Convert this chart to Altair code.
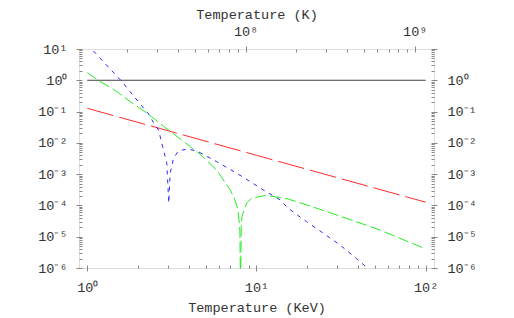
import altair as alt
import pandas as pd

# ---------------- data ----------------
KEV_TO_K = 1.1605e7          # 1 keV in Kelvin
kev_domain = [0.893, 112.0]
val_domain = [1e-6, 10.0]

black_x = [1.0, 100.0]
black_y = [1.0, 1.0]

red_x = [1.0, 10.0, 100.0]
red_y = [0.127, 0.0040, 1.27e-4]

green_x = [1.0, 1.17, 1.43, 1.79, 2.25, 2.63, 2.82, 3.6, 4.64, 5.82, 6.37, 6.98,
           7.39, 7.74, 7.88, 7.98, 8.05, 8.12, 8.2, 8.75, 9.37, 11.2, 12.9, 15.4,
           19.8, 27.1, 39.0, 53.5, 70.3, 100.0]
green_y = [1.75, 0.97, 0.51, 0.21, 0.089, 0.046, 0.034, 0.0125, 0.0043, 1.36e-3,
           6.5e-4, 3.2e-4, 1.7e-4, 8.1e-5, 3.5e-5, 1.5e-5, 1e-7, 1.8e-5, 4.4e-5,
           1.2e-4, 1.7e-4, 2.05e-4, 1.9e-4, 1.6e-4, 1.04e-4, 5.9e-5, 3.0e-5,
           1.65e-5, 8.9e-6, 4.1e-6]

blue_x = [1.0, 1.18, 1.31, 1.585, 2.08, 2.3, 2.46, 2.57, 2.64, 2.82, 2.95, 3.03,
          3.09, 3.23, 3.46, 3.97, 4.53, 5.82, 7.64, 9.16, 11.0, 13.8, 15.4, 19.8,
          24.8, 31.1, 39.0, 44.3, 48.0]
blue_y = [14.0, 5.4, 2.9, 0.97, 0.16, 0.084, 0.045, 0.032, 0.025, 5.9e-3, 2.2e-3,
          1.2e-4, 1.07e-3, 3.2e-3, 5.6e-3, 6.4e-3, 5.2e-3, 2.5e-3, 1.07e-3, 5.8e-4,
          3.1e-4, 1.5e-4, 8.1e-5, 3.0e-5, 1.3e-5, 5.5e-6, 2.0e-6, 1.1e-6, 7e-7]

series_names = ["black", "red", "green", "blue"]
series_colors = ["#222222", "#ff2a2a", "#22ee22", "#2a2aff"]
series_dashes = [[1, 0], [27, 6], [11, 4], [4, 5]]

# tick values / labels
minor_mult = [2, 3, 4, 5, 6, 7, 8, 9]
x_major = [1, 10, 100]
x_labels = ["10⁰", "10¹", "10²"]
x_minor = [m * d for d in [1, 10] for m in minor_mult]

y_major = [1e-6, 1e-5, 1e-4, 1e-3, 1e-2, 1e-1, 1.0, 10.0]
y_labels_left = ["10⁻⁶", "10⁻⁵", "10⁻⁴", "10⁻³", "10⁻²", "10⁻¹", "10⁰", "10¹"]
y_labels_right = ["10⁻⁶", "10⁻⁵", "10⁻⁴", "10⁻³", "10⁻²", "10⁻¹", "10⁰", ""]
y_minor = [m * d for d in [1e-6, 1e-5, 1e-4, 1e-3, 1e-2, 1e-1, 1.0] for m in minor_mult]

top_major = [1e8, 1e9]
top_labels = ["10⁸", "10⁹"]
top_minor = [m * d for d in [1e7, 1e8] for m in minor_mult]

# ---------------- helpers ----------------
FONT = "Liberation Mono"
GRAY = "#888888"
TXT = "#333333"


def label_expr(values, labels):
    expr = "''"
    for v, l in reversed(list(zip(values, labels))):
        expr = f"datum.value == {v!r} ? '{l}' : {expr}"
    return expr


def make_axis(orient, major, minor, labels, title=None, label_pad=9, title_pad=None):
    test = "indexof([" + ",".join(repr(v) for v in major) + "], datum.value) >= 0"
    kw = dict(
        orient=orient,
        values=sorted(major + minor),
        labelExpr=label_expr(major, labels),
        tickSize={"condition": {"test": test, "value": 6}, "value": 3},
        offset=-3,
        domain=False,
        grid=False,
        tickColor=GRAY,
        tickWidth=1,
        labelFont=FONT,
        labelFontSize=13.5,
        labelColor=TXT,
        labelPadding=label_pad,
        labelFlush=False,
        labelOverlap=False,
    )
    if title is not None:
        kw.update(title=title, titleFont=FONT, titleFontSize=13.5,
                  titleFontWeight="normal", titleColor=TXT)
        if title_pad is not None:
            kw["titlePadding"] = title_pad
    else:
        kw["title"] = ""
    return alt.Axis(**kw)


rows = []
for name, xs, ys in [("black", black_x, black_y), ("red", red_x, red_y),
                     ("green", green_x, green_y), ("blue", blue_x, blue_y)]:
    for x, y in zip(xs, ys):
        rows.append({"series": name, "kev": x, "val": y})
df = pd.DataFrame(rows)

x_scale = alt.Scale(type="log", domain=kev_domain, nice=False)
y_scale = alt.Scale(type="log", domain=val_domain, nice=False)

lines = alt.Chart(df).mark_line(clip=True, strokeWidth=1).encode(
    x=alt.X("kev:Q", scale=x_scale,
            axis=make_axis("bottom", x_major, x_minor, x_labels,
                           title="Temperature (KeV)", label_pad=9, title_pad=7)),
    y=alt.Y("val:Q", scale=y_scale,
            axis=make_axis("left", y_major, y_minor, y_labels_left, label_pad=9)),
    color=alt.Color("series:N", scale=alt.Scale(domain=series_names, range=series_colors),
                    legend=None),
    strokeDash=alt.StrokeDash("series:N",
                              scale=alt.Scale(domain=series_names, range=series_dashes),
                              legend=None),
    detail="series:N",
)

right = alt.Chart(df).mark_point(opacity=0).encode(
    y=alt.Y("val:Q", scale=y_scale,
            axis=make_axis("right", y_major, y_minor, y_labels_right, label_pad=10)),
)

top_df = pd.DataFrame({"kelvin": [kev_domain[0] * KEV_TO_K, kev_domain[1] * KEV_TO_K]})
top = alt.Chart(top_df).mark_point(opacity=0).encode(
    x=alt.X("kelvin:Q",
            scale=alt.Scale(type="log",
                            domain=[kev_domain[0] * KEV_TO_K, kev_domain[1] * KEV_TO_K],
                            nice=False),
            axis=make_axis("top", top_major, top_minor, top_labels,
                           title="Temperature (K)", label_pad=8, title_pad=3)),
)

chart = (
    alt.layer(lines, right, top)
    .resolve_scale(x="independent", y="shared")
    .resolve_axis(x="independent", y="independent")
    .properties(
        width=355,
        height=219,
        autosize=alt.AutoSizeParams(type="none"),
        padding={"left": 71, "top": 41, "right": 72, "bottom": 48},
    )
    .configure_view(stroke=GRAY, strokeWidth=1)
    .configure(background="white")
)

chart.save("out.html", embed_options={"renderer": "svg", "actions": False})
